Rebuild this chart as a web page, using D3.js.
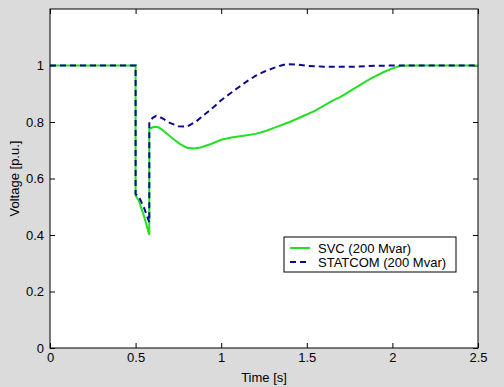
<!DOCTYPE html>
<html>
<head>
<meta charset="utf-8">
<script src="https://cdn.jsdelivr.net/npm/d3@7"></script>
<style>
  body { margin: 0; background: #dcdbdc; }
  svg { display: block; font-family: "Liberation Sans", Arial, sans-serif; }
</style>
</head>
<body>
<script>
// SVC response (time [s], voltage [p.u.])
var svcTime = [0, 0.5, 0.5, 0.52, 0.55, 0.58, 0.58, 0.59, 0.61, 0.63, 0.65, 0.68, 0.72, 0.76, 0.8, 0.84, 0.88,
  0.94, 1.0, 1.06, 1.14, 1.2, 1.26, 1.32, 1.4, 1.46, 1.55, 1.64, 1.7, 1.8, 1.87, 1.95, 2.0, 2.05, 2.1, 2.5];
var svcVolt = [1, 1, 0.54, 0.52, 0.465, 0.40, 0.775, 0.779, 0.783, 0.782, 0.775, 0.76, 0.74, 0.722, 0.709, 0.706, 0.71,
  0.722, 0.737, 0.745, 0.752, 0.758, 0.768, 0.782, 0.80, 0.816, 0.84, 0.872, 0.89, 0.927, 0.953, 0.977, 0.99, 0.999, 1.0, 1.0];

// STATCOM response
var statTime = [0, 0.5, 0.5, 0.52, 0.55, 0.58, 0.58, 0.6, 0.62, 0.65, 0.7, 0.75, 0.8, 0.85, 0.9, 0.95, 1.0,
  1.05, 1.1, 1.15, 1.2, 1.25, 1.3, 1.35, 1.38, 1.45, 1.5, 1.6, 1.8, 1.9, 2.0, 2.5];
var statVolt = [1, 1, 0.545, 0.535, 0.495, 0.445, 0.80, 0.815, 0.822, 0.815, 0.797, 0.785, 0.784, 0.80, 0.825, 0.85, 0.877,
  0.90, 0.922, 0.944, 0.963, 0.978, 0.99, 1.0, 1.005, 1.003, 0.999, 0.996, 0.996, 0.999, 1.0, 1.0];

var xTicks = [0, 0.5, 1, 1.5, 2, 2.5];
var yTicks = [0, 0.2, 0.4, 0.6, 0.8, 1];
var seriesNames = ["SVC (200 Mvar)", "STATCOM (200 Mvar)"];

var width = 504, height = 387;
var margin = {left: 50, top: 9, right: 26, bottom: 39};
var w = width - margin.left - margin.right,
    h = height - margin.top - margin.bottom;

var svg = d3.select("body").append("svg")
    .attr("width", width)
    .attr("height", height);

var g = svg.append("g")
    .attr("transform", "translate(" + margin.left + "," + margin.top + ")");

var x = d3.scaleLinear().domain([0, 2.5]).range([0, w]);
var y = d3.scaleLinear().domain([0, 1.2]).range([h, 0]);

g.append("rect")
    .attr("width", w)
    .attr("height", h)
    .attr("fill", "#fff");

g.append("clipPath").attr("id", "clip")
  .append("rect").attr("width", w).attr("height", h);

var fmt = d3.format("~g");

function styleAxis(sel) {
  sel.select(".domain").remove();
  sel.selectAll("line").attr("stroke", "#000");
  sel.selectAll("text").attr("fill", "#000").style("font-size", "13px");
}

g.append("g")
    .attr("transform", "translate(0," + h + ")")
    .call(d3.axisBottom(x).tickValues(xTicks).tickFormat(fmt).tickSizeInner(-5).tickSizeOuter(0).tickPadding(5))
    .call(styleAxis);
g.append("g")
    .call(d3.axisTop(x).tickValues(xTicks).tickFormat("").tickSizeInner(-5).tickSizeOuter(0))
    .call(styleAxis);
g.append("g")
    .call(d3.axisLeft(y).tickValues(yTicks).tickFormat(fmt).tickSizeInner(-5).tickSizeOuter(0).tickPadding(6))
    .call(styleAxis);
g.append("g")
    .attr("transform", "translate(" + w + ",0)")
    .call(d3.axisRight(y).tickValues(yTicks).tickFormat("").tickSizeInner(-5).tickSizeOuter(0))
    .call(styleAxis);

var line = d3.line()
    .x(function(d) { return x(d[0]); })
    .y(function(d) { return y(d[1]); });

var svcData = d3.zip(svcTime, svcVolt);
var statData = d3.zip(statTime, statVolt);

var plot = g.append("g").attr("clip-path", "url(#clip)");

plot.append("path")
    .datum(svcData)
    .attr("d", line)
    .attr("fill", "none")
    .attr("stroke", "#22e022")
    .attr("stroke-width", 2);

plot.append("path")
    .datum(statData)
    .attr("d", line)
    .attr("fill", "none")
    .attr("stroke", "#0a0a8c")
    .attr("stroke-width", 2)
    .attr("stroke-dasharray", "6,4");

g.append("rect")
    .attr("width", w)
    .attr("height", h)
    .attr("fill", "none")
    .attr("stroke", "#000");

// legend
var leg = svg.append("g").attr("transform", "translate(284,237)");
leg.append("rect")
    .attr("width", 172)
    .attr("height", 35)
    .attr("fill", "#fff")
    .attr("stroke", "#000");

var legColors = ["#22e022", "#0a0a8c"];
var legDash = [null, "6,4"];
seriesNames.forEach(function(name, i) {
  var ly = 11 + i * 14;
  leg.append("line")
      .attr("x1", 6).attr("x2", 26)
      .attr("y1", ly).attr("y2", ly)
      .attr("stroke", legColors[i])
      .attr("stroke-width", 2)
      .attr("stroke-dasharray", legDash[i]);
  leg.append("text")
      .attr("x", 34)
      .attr("y", ly)
      .attr("dy", "0.35em")
      .style("font-size", "13px")
      .text(name);
});

// axis titles
svg.append("text")
    .attr("x", margin.left + w / 2)
    .attr("y", 382)
    .attr("text-anchor", "middle")
    .style("font-size", "13px")
    .text("Time [s]");

svg.append("text")
    .attr("transform", "translate(19," + (margin.top + h / 2) + ") rotate(-90)")
    .attr("text-anchor", "middle")
    .style("font-size", "13px")
    .text("Voltage [p.u.]");
</script>
</body>
</html>
